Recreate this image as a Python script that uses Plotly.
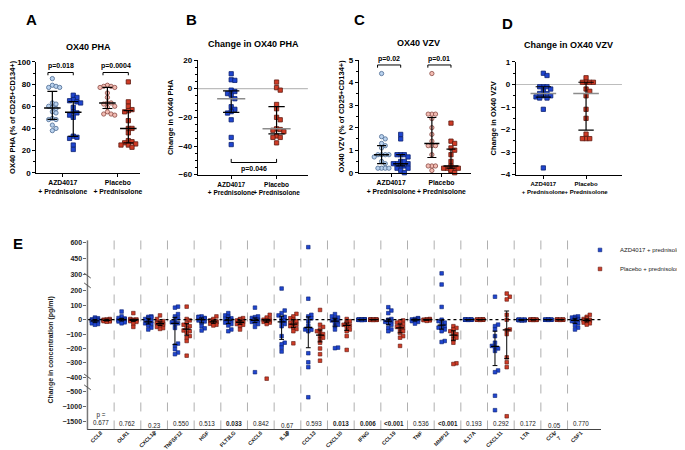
import numpy as np
import plotly.graph_objects as go

W, H = 685, 450
FONT = "Liberation Sans, Arial, sans-serif"

# ---------------- data ----------------
group_labels = ["AZD4017<br>+ Prednisolone", "Placebo<br>+ Prednisolone"]

# Panel A: OX40 PHA (% of CD25+CD134+), pre (circles) / post (squares)
pha_azd_pre = [85, 79, 78, 77, 77, 63, 62, 60, 59, 58, 55, 54, 49, 48, 48, 43, 40, 38]
pha_azd_post = [70, 68, 66, 65, 64, 63, 59, 55, 54, 52, 50, 33, 32, 31, 25, 21]
pha_pla_pre = [79, 78, 78, 77, 77, 72, 68, 63, 63, 62, 60, 59, 55, 53, 53, 52]
pha_pla_post = [82, 64, 60, 57, 56, 55, 47, 40, 40, 36, 29, 28, 27, 26, 25, 25, 23]
p_pha = ["p=0.018", "p=0.0004"]

# Panel B: change in OX40 PHA
chg_pha_azd = [10.4, 6.2, 5.8, -1, -2, -3.4, -4.5, -7, -12.6, -14.4, -16, -17, -21.7, -34, -39]
chg_pha_pla = [4.6, 0.7, -1, -11, -14, -20, -21.7, -28, -28.5, -29, -30, -33, -34, -34, -37.8]
p_chg_pha = "p=0.046"

# Panel C: OX40 VZV
vzv_azd_pre = [4.4, 1.6, 1.5, 1.3, 1.2, 1.1, 0.8, 0.8, 0.8, 0.8, 0.7, 0.5, 0.4, 0.2, 0.2, 0.2, 0.2]
vzv_azd_post = [1.7, 1.5, 0.8, 0.8, 0.8, 0.7, 0.5, 0.5, 0.4, 0.4, 0.4, 0.3, 0.3, 0.2, 0.2, 0.1, 0.0]
vzv_pla_pre = [4.4, 2.6, 2.6, 2.6, 2.4, 2.0, 1.7, 1.4, 1.2, 1.2, 1.2, 0.8, 0.3, 0.3, 0.3, 0.1]
vzv_pla_post = [2.2, 1.4, 1.3, 1.1, 1.0, 0.8, 0.5, 0.3, 0.2, 0.2, 0.2, 0.2, 0.1, 0.1, 0.0]
p_vzv = ["p=0.02", "p=0.01"]

# Panel D: change in OX40 VZV
chg_vzv_azd = [0.5, 0.4, -0.1, -0.1, -0.1, -0.2, -0.3, -0.4, -0.4, -0.5, -0.5, -0.55, -0.6, -0.6, -1.1, -3.7]
chg_vzv_pla = [0.3, 0.1, 0.1, 0.1, 0.1, -0.2, -0.3, -0.5, -1.1, -1.5, -2.2, -2.4, -2.4, -2.4]

# Panel E: change in concentration (pg/ml)
cytokine_ticks = ["CCL8", "OLR1", "CXCL12", "TNFSF12", "HGF", "FLT3LG", "CXCL6", "IL18",
                  "CCL13", "CXCL10", "IFNG", "CCL19", "TNF", "MMP12", "IL17A", "CXCL11",
                  "LTA", "CCL<br>7", "CSF1"]
p_values = ["p =<br>0.677", "0.762", "0.23<br>4", "0.550", "0.513", "0.033", "0.842", "0.67<br>8",
            "0.593", "0.013", "0.006", "&lt;0.001", "0.536", "&lt;0.001", "0.193", "0.292",
            "0.172", "0.05<br>4", "0.770"]
p_bold = [False, False, False, False, False, True, False, False, False, True, True, True,
          False, True, False, False, False, False, False]

ccl8_azd = [15, 10, 5, 2, 0, -2, -5, -8, -10, -12, -15, -20, -25, -30, -35]
ccl8_pla = [5, 2, 0, -2, -4, -5, -6, -8, -10, -12, -14]
olr1_azd = [57, 23, 12, 8, 5, 2, 0, -3, -5, -8, -12, -18, -25]
olr1_pla = [46, 5, 2, 0, -2, -4, -6, -8, -10, -15, -27, -50]
cxcl12_azd = [23, 20, 16, 10, 5, -10, -15, -20, -25, -30, -40, -55, -68]
cxcl12_pla = [30, 5, -10, -15, -20, -25, -28, -30, -35, -40, -50, -58, -64]
tnfsf12_azd = [91, 84, 39, 23, 10, -5, -18, -25, -30, -57, -166, -180, -205, -228, -240]
tnfsf12_pla = [91, 5, -5, -25, -35, -45, -57, -75, -80, -90, -114, -125, -148, -250]
hgf_azd = [23, 20, 18, 12, 8, 5, 0, -5, -12, -22, -45, -60, -75]
hgf_pla = [23, 5, -5, -10, -12, -15, -18, -22, -28, -35, -40]
flt3lg_azd = [46, 30, 23, 15, 10, 5, 0, -5, -12, -20, -30, -40, -68, -80]
flt3lg_pla = [11, 5, 0, -5, -10, -15, -20, -25, -30, -35, -45, -68]
cxcl6_azd = [84, 23, 18, 12, 5, 0, -5, -10, -15, -20, -30, -50, -365]
cxcl6_pla = [34, 15, 5, 0, -5, -8, -12, -15, -20, -30, -410]
il18_azd = [217, 64, 46, 30, 20, 10, -5, -15, -30, -45, -114, -160, -171, -194, -221]
il18_pla = [41, 23, 10, 0, -10, -20, -30, -35, -45, -55, -65, -80, -164]
ccl13_azd = [555, 146, 34, 23, 10, -10, -40, -68, -70, -80, -233, -296, -330, -697]
ccl13_pla = [68, -35, -50, -68, -80, -91, -100, -114, -125, -137, -160, -200, -240, -285]
cxcl10_azd = [39, 23, 15, 10, 0, -5, -10, -20, -35, -45, -68, -194, -198]
cxcl10_pla = [5, -10, -20, -25, -35, -40, -50, -68, -80, -114, -210]
ifng_azd = [2, 1, 1, 0, 0, 0, 0, 0, 0, 0, -1, -1, -1, -2]
ifng_pla = [1, 1, 0, 0, 0, 0, 0, 0, 0, -1, -1, -2]
ccl19_azd = [87, 64, 46, 5, 0, -5, -10, -15, -25, -35, -57, -68, -80]
ccl19_pla = [-5, -11, -20, -30, -40, -50, -57, -68, -80, -91, -114, -125, -182]
tnf_azd = [11, 8, 5, 2, 0, -2, -5, -10, -15, -27]
tnf_pla = [5, 3, 0, 0, -2, -3, -5, -8]
mmp12_azd = [312, 245, 89, 0, -10, -20, -30, -45, -55, -57, -68, -80, -148, -155]
mmp12_pla = [-45, -57, -68, -80, -91, -100, -114, -125, -137, -160, -303, -308]
il17a_azd = [1, 0, 0, 0, 0, 0, 0, 0, 0, 0, 0, -1]
il17a_pla = [1, 0, 0, 0, 0, 0, 0, 0, 0, 0, -1]
cxcl11_azd = [160, -34, -45, -68, -114, -160, -182, -190, -200, -217, -353, -365, -647, -1123]
cxcl11_pla = [182, 160, 141, 34, 0, -68, -73, -100, -262, -296, -330, -1323]
lta_azd = [0, 0, -1, -2, -3, -4, -5, -3, -2, 0, 0, -1]
lta_pla = [1, 1, 0, 0, 0, 0, -1, -1, -2, 0]
ccl7_azd = [1, 0, 0, 0, 0, 0, 0, 0, 0, -1]
ccl7_pla = [1, 0, 0, 0, 0, 0, 0, 0, -1]
csf1_azd = [23, 20, 15, 10, 5, 0, -5, -10, -15, -25, -40, -55, -68]
csf1_pla = [34, 20, 10, 5, 0, -3, -5, -8, -10, -15, -20, -25, -34]

e_azd = [ccl8_azd, olr1_azd, cxcl12_azd, tnfsf12_azd, hgf_azd, flt3lg_azd, cxcl6_azd, il18_azd,
         ccl13_azd, cxcl10_azd, ifng_azd, ccl19_azd, tnf_azd, mmp12_azd, il17a_azd, cxcl11_azd,
         lta_azd, ccl7_azd, csf1_azd]
e_pla = [ccl8_pla, olr1_pla, cxcl12_pla, tnfsf12_pla, hgf_pla, flt3lg_pla, cxcl6_pla, il18_pla,
         ccl13_pla, cxcl10_pla, ifng_pla, ccl19_pla, tnf_pla, mmp12_pla, il17a_pla, cxcl11_pla,
         lta_pla, ccl7_pla, csf1_pla]

# ---------------- styles ----------------
BLUE, BLUE_EDGE = "#1f45d0", "#0c2270"
RED, RED_EDGE = "#cf3b26", "#5e1a10"
LBLUE, LBLUE_EDGE = "#b9d2ee", "#4b6a92"
PINK, PINK_EDGE = "#f3bcb3", "#8a4a44"
MS = 4.3


def fx(p):
    return p / W


def fy(p):
    return 1 - p / H


def swarm(vals, to_px, px_per_x, msize, maxw):
    vals = np.asarray(vals, float)
    ypx = np.array([to_px(v) for v in vals])
    step = msize * 0.9
    n = int(maxw // step)
    cands = [0.0]
    for k in range(1, n + 1):
        cands += [k * step, -k * step]
    placed = []
    offs = np.zeros(len(vals))
    for i in np.argsort(-ypx):
        best, bestc = 0.0, None
        for c in cands:
            cnt = sum(1 for (py, pc) in placed
                      if abs(py - ypx[i]) < msize * 0.9 and abs(pc - c) < msize * 0.9)
            if bestc is None or cnt < bestc:
                best, bestc = c, cnt
            if cnt == 0:
                break
        placed.append((ypx[i], best))
        offs[i] = best / px_per_x
    return offs


fig = go.Figure()


def add_points(vals, center, xa, ya, ppx, ppy, sym, fill, edge, size, maxw):
    offs = swarm(vals, lambda v: v * ppy, ppx, size, maxw)
    fig.add_trace(go.Scatter(
        x=center + offs, y=vals, xaxis=xa, yaxis=ya, mode="markers",
        marker=dict(symbol=sym, size=size, color=fill, line=dict(color=edge, width=0.8)),
        showlegend=False, hoverinfo="skip", cliponaxis=False))


def add_stats(vals, center, xa, ya, mw, cw, mcolor="black", ccolor="black", lw=1.2):
    q1, med, q3 = np.percentile(vals, [25, 50, 75])
    fig.add_trace(go.Scatter(
        x=[center, center, None, center - cw, center + cw, None, center - cw, center + cw],
        y=[q1, q3, None, q1, q1, None, q3, q3], xaxis=xa, yaxis=ya, mode="lines",
        line=dict(color=ccolor, width=lw), showlegend=False, hoverinfo="skip", cliponaxis=False))
    fig.add_trace(go.Scatter(
        x=[center - mw, center + mw], y=[med, med], xaxis=xa, yaxis=ya, mode="lines",
        line=dict(color=mcolor, width=lw + 0.3), showlegend=False, hoverinfo="skip",
        cliponaxis=False))


# Panel A
off = 0.19
for g, (pre, post, pc, pe, sc, se) in enumerate([
        (pha_azd_pre, pha_azd_post, LBLUE, LBLUE_EDGE, BLUE, BLUE_EDGE),
        (pha_pla_pre, pha_pla_post, PINK, PINK_EDGE, RED, RED_EDGE)]):
    c = g + 1
    add_points(pre, c - off, "x", "y", 58, 1.13, "circle", pc, pe, MS, 9)
    add_points(post, c + off, "x", "y", 58, 1.13, "square", sc, se, MS, 9)
    add_stats(pre, c - off, "x", "y", 0.15, 0.09)
    add_stats(post, c + off, "x", "y", 0.15, 0.09)

# Panel B
for g, (vals, col, ed) in enumerate([(chg_pha_azd, BLUE, BLUE_EDGE), (chg_pha_pla, RED, RED_EDGE)]):
    c = g + 1
    add_points(vals, c, "x2", "y2", 48, 1.46, "square", col, ed, MS, 12)
    add_stats(vals, c, "x2", "y2", 0.31, 0.18, mcolor="#8c8c8c")

# Panel C
for g, (pre, post, pc, pe, sc, se) in enumerate([
        (vzv_azd_pre, vzv_azd_post, LBLUE, LBLUE_EDGE, BLUE, BLUE_EDGE),
        (vzv_pla_pre, vzv_pla_post, PINK, PINK_EDGE, RED, RED_EDGE)]):
    c = g + 1
    add_points(pre, c - off, "x3", "y3", 53, 23, "circle", pc, pe, MS, 9)
    add_points(post, c + off, "x3", "y3", 53, 23, "square", sc, se, MS, 9)
    add_stats(pre, c - off, "x3", "y3", 0.15, 0.09)
    add_stats(post, c + off, "x3", "y3", 0.15, 0.09)

# Panel D
for g, (vals, col, ed) in enumerate([(chg_vzv_azd, BLUE, BLUE_EDGE), (chg_vzv_pla, RED, RED_EDGE)]):
    c = g + 1
    add_points(vals, c, "x4", "y4", 45, 23, "square", col, ed, MS, 12)
    add_stats(vals, c, "x4", "y4", 0.3, 0.18, mcolor="#8c8c8c")


# Panel E (broken y axis: top / middle / bottom segments)
def e_seg(v):
    return 0 if v > 282 else (2 if v < -440 else 1)


def e_px(v):
    if v > 282:
        return 235 - (v - 600) * 0.11
    if v < -440:
        return 387 + (-500 - v) * 0.031
    return 314 - v * 0.1467


seg_axes = ["y5", "y6", "y7"]
EW = 0.22
for grp, (data, col, ed, name) in enumerate([
        (e_azd, BLUE, BLUE_EDGE, "AZD4017 + prednisolone"),
        (e_pla, RED, RED_EDGE, "Placebo + prednisolone")]):
    xs = [[], [], []]
    ys = [[], [], []]
    for i, vals in enumerate(data):
        c = i - EW if grp == 0 else i + EW
        offs = swarm(vals, e_px, 28.2, 3.6, 6)
        for v, o in zip(vals, offs):
            s = e_seg(v)
            xs[s].append(c + o)
            ys[s].append(v)
    for s in range(3):
        fig.add_trace(go.Scatter(
            x=xs[s], y=ys[s], xaxis="x5", yaxis=seg_axes[s], mode="markers", name=name,
            marker=dict(symbol="square", size=3.6, color=col, line=dict(color=ed, width=0.6)),
            showlegend=(s == 1), hoverinfo="skip", cliponaxis=False))
    for i, vals in enumerate(data):
        c = i - EW if grp == 0 else i + EW
        add_stats(vals, c, "x5", "y6", 0.15, 0.09, lw=1.0)

# ---------------- axes ----------------
tickf = dict(size=8, family=FONT, weight="bold", color="black")
common = dict(showgrid=False, zeroline=False, showline=True, linecolor="black", linewidth=1.3,
              ticks="outside", ticklen=3, tickwidth=1, tickcolor="black", tickfont=tickf)


def xax(px0, px1, anchor, rng, fs=6.8):
    d = dict(common)
    d.update(domain=[fx(px0), fx(px1)], anchor=anchor, range=rng, tickvals=[1, 2],
             ticktext=group_labels, tickangle=0,
             tickfont=dict(size=fs, family=FONT, weight="bold", color="black"))
    return d


def yax(py0, py1, anchor, rng, dtick, minor, title):
    d = dict(common)
    d.update(domain=[fy(py0), fy(py1)], anchor=anchor, range=rng, dtick=dtick,
             minor=dict(dtick=minor, ticks="outside", ticklen=2, tickcolor="black"),
             title=dict(text=title, font=dict(size=7.5, family=FONT, weight="bold"), standoff=3))
    return d


layout = dict(
    width=W, height=H, margin=dict(l=0, r=0, t=0, b=0),
    paper_bgcolor="white", plot_bgcolor="rgba(0,0,0,0)",
    font=dict(family=FONT, color="black"),
    hovermode=False,
    xaxis=xax(30, 140, "y", [0.52, 2.41]),
    yaxis=yax(164, 51, "x", [0, 100], 20, 10, "OX40 PHA (% of CD25+CD134+)"),
    xaxis2=xax(200.7, 317, "y2", [0.265, 2.69], 6.5),
    yaxis2=yax(166, 49, "x2", [-60, 20], 20, 5, "Change in OX40 PHA"),
    xaxis3=xax(371, 489, "y3", [0.36, 2.58]),
    yaxis3=yax(164, 49, "x3", [0, 5], 1, 0.5, "OX40 VZV (% of CD25+CD134+)"),
    xaxis4=xax(537, 649, "y4", [0.36, 2.84], 6.0),
    yaxis4=yax(166, 51, "x4", [-4, 1], 1, 0.5, "Change in OX40 VZV"),
    legend=dict(x=fx(605), y=fy(228), xanchor="left", yanchor="top",
                font=dict(size=6, family=FONT, color="#222"), bgcolor="rgba(0,0,0,0)",
                itemwidth=30, tracegroupgap=0),
)

e_tickf = dict(size=7, family=FONT, weight="bold", color="#222")
e_common = dict(showgrid=False, zeroline=False, showline=False, ticks="outside", ticklen=3,
                tickwidth=1, tickcolor="#666", tickfont=e_tickf, anchor="x5")
layout["xaxis5"] = dict(
    domain=[fx(84), fx(627)], anchor="y7", range=[-0.5, 18.76], showgrid=False, zeroline=False,
    showline=True, linecolor="#444", linewidth=1.3, ticks="", tickvals=list(range(len(cytokine_ticks))),
    ticktext=cytokine_ticks, tickangle=-45, ticklabelstandoff=-3,
    tickfont=dict(size=5.4, family=FONT, weight="bold", color="#222"))
layout["yaxis5"] = dict(e_common, domain=[fy(270), fy(233)], range=[282, 618],
                        tickvals=[300, 450, 600])
layout["yaxis6"] = dict(e_common, domain=[fy(376), fy(277)], range=[-422.6, 252.2],
                        tickvals=[-400, -300, -200, -100, 0, 100, 200])
layout["yaxis7"] = dict(e_common, domain=[fy(426), fy(383)], range=[-1758, -371],
                        tickvals=[-500, -1000, -1500])

fig.update_layout(**layout)

# ---------------- shapes ----------------
shapes = []
# zero reference lines in B and D
for xa, ya in [("x2", "y2"), ("x4", "y4")]:
    shapes.append(dict(type="line", xref=xa + " domain", yref=ya, x0=0, x1=1, y0=0, y1=0,
                       line=dict(color="#bdbdbd", width=1.2), layer="below"))


# significance brackets in A and C (y positions are layout levels)
def bracket(xa, ya, x0, x1, yb, drop):
    shapes.append(dict(type="path", xref=xa, yref=ya,
                       path=f"M{x0},{yb - drop} L{x0},{yb} L{x1},{yb} L{x1},{yb - drop}",
                       line=dict(color="black", width=1)))


for g in range(2):
    c = g + 1
    bracket("x", "y", c - off - 0.08, c + off, 90.5, 2.5)
    bracket("x3", "y3", c - off - 0.08, c + off, 4.78, 0.12)
bracket("x2", "y2", 1, 2, -51.5, -2.5)

# E: separators, zero dotted line, y-axis line and break marks
for i in range(len(cytokine_ticks) - 1):
    shapes.append(dict(type="line", xref="x5", yref="paper", x0=i + 0.5, x1=i + 0.5,
                       y0=fy(426), y1=fy(233), line=dict(color="#9a9a9a", width=0.8, dash="dash"),
                       layer="below"))
shapes.append(dict(type="line", xref="x5 domain", yref="y6", x0=0, x1=1, y0=0, y1=0,
                   line=dict(color="black", width=1.3, dash="dot")))
shapes.append(dict(type="line", xref="paper", yref="paper", x0=fx(84), x1=fx(84),
                   y0=fy(426), y1=fy(233), line=dict(color="#777", width=1.5)))
for yb in [269, 279, 372, 383]:
    shapes.append(dict(type="line", xref="paper", yref="paper", x0=fx(80.5), x1=fx(87.5),
                       y0=fy(yb - 2.5), y1=fy(yb + 2.5), line=dict(color="#555", width=1)))

# ---------------- annotations ----------------
ann = []
for txt, x, y in [("A", 25, 8), ("B", 194, 8), ("C", 372, 8), ("D", 528, 12), ("E", 11, 236)]:
    ann.append(dict(text=txt, x=fx(x), y=fy(y), xref="paper", yref="paper", showarrow=False,
                    xanchor="center", yanchor="middle",
                    font=dict(size=15, family=FONT, weight="bold", color="black")))
for txt, x, y in [("OX40 PHA", 85, 36), ("Change in OX40 PHA", 259, 33),
                  ("OX40 VZV", 434, 32), ("Change in OX40 VZV", 592, 34)]:
    ann.append(dict(text=txt, x=fx(x), y=fy(y), xref="paper", yref="paper", showarrow=False,
                    xanchor="center", yanchor="middle",
                    font=dict(size=9, family=FONT, weight="bold", color="black")))
pf = dict(size=7, family=FONT, weight="bold", color="black")
for g in range(2):
    c = g + 1
    ann.append(dict(text=p_pha[g], x=c - 0.04, y=90.5, xref="x", yref="y", yanchor="bottom",
                    xanchor="center", showarrow=False, font=pf))
    ann.append(dict(text=p_vzv[g], x=c - 0.04, y=4.78, xref="x3", yref="y3", yanchor="bottom",
                    xanchor="center", showarrow=False, font=pf))
ann.append(dict(text=p_chg_pha, x=1.5, y=-51.5, xref="x2", yref="y2", yanchor="top",
                xanchor="center", showarrow=False, font=pf))
ann.append(dict(text="Change in concentration (pg/ml)", x=fx(46), y=fy(345), xref="paper",
                yref="paper", textangle=-90, showarrow=False, xanchor="center", yanchor="middle",
                font=dict(size=7, family=FONT, weight="bold", color="#222")))
for i, (pv, b) in enumerate(zip(p_values, p_bold)):
    f = dict(size=6.3, family=FONT, color="#222", weight="bold" if b else "normal")
    if pv.startswith("p ="):
        ann.append(dict(text=pv, x=i, y=fy(424), xref="x5", yref="paper", yanchor="bottom",
                        xanchor="center", showarrow=False, font=f))
    elif "<br>" in pv:
        ann.append(dict(text=pv, x=i, y=fy(416), xref="x5", yref="paper", yanchor="top",
                        xanchor="center", showarrow=False, font=f))
    else:
        ann.append(dict(text=pv, x=i, y=fy(420), xref="x5", yref="paper", yanchor="middle",
                        xanchor="center", showarrow=False, font=f))

fig.update_layout(shapes=shapes, annotations=ann)
fig.write_html("out.html")
